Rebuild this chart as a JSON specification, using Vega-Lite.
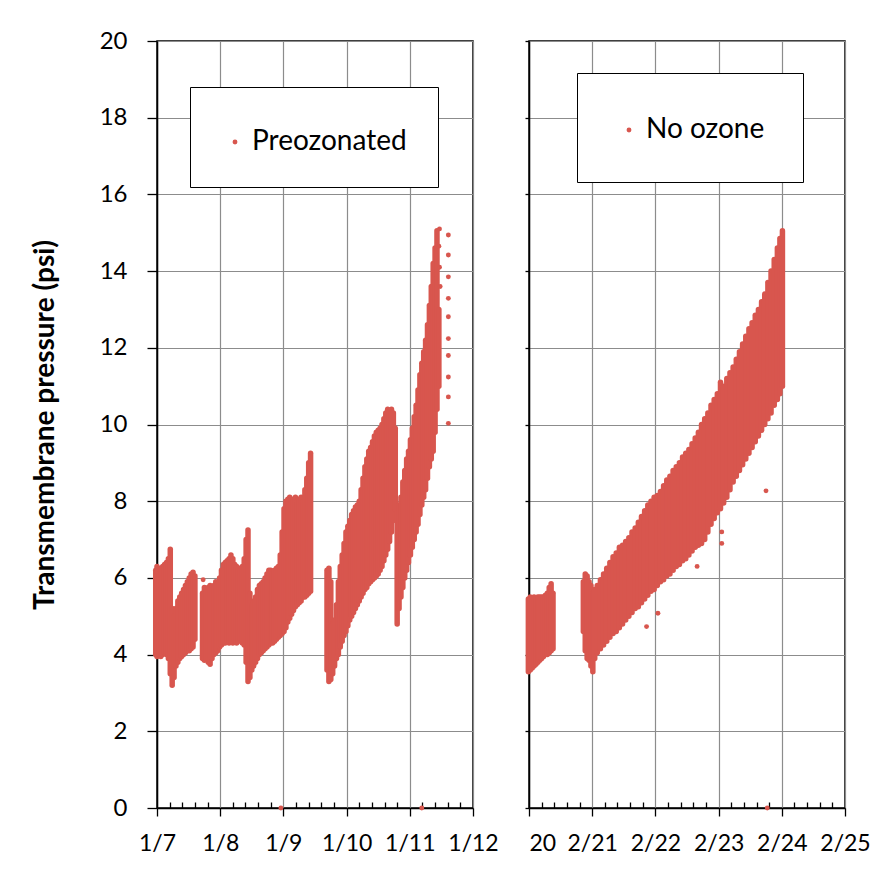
{
  "$schema": "https://vega.github.io/schema/vega-lite/v6.json",
  "background": "white",
  "padding": {"left": 30, "top": 28, "right": 5, "bottom": 5},
  "config": {
    "font": "Lato",
    "view": {"stroke": "black", "strokeWidth": 1.5},
    "axis": {"labelColor": "black", "labelFont": "Lato", "labelFontSize": 23, "gridColor": "#8c8c8c", "gridWidth": 1.2, "gridOpacity": 1, "domainColor": "black", "domainWidth": 1.5, "tickColor": "black", "tickWidth": 1.3}
  },
  "datasets": {
    "leftBands": [
      {"day": 6.98, "lo": 4.0, "hi": 6.2}, {"day": 7.0, "lo": 3.95, "hi": 6.3}, {"day": 7.03, "lo": 4.0, "hi": 6.1}, {"day": 7.06, "lo": 3.95, "hi": 6.25}, {"day": 7.09, "lo": 4.0, "hi": 6.3}, {"day": 7.12, "lo": 4.05, "hi": 6.35}, {"day": 7.15, "lo": 4.0, "hi": 6.4}, {"day": 7.18, "lo": 3.9, "hi": 6.5}, {"day": 7.21, "lo": 3.5, "hi": 6.75}, {"day": 7.24, "lo": 3.2, "hi": 5.2},
      {"day": 7.27, "lo": 3.4, "hi": 5.0}, {"day": 7.3, "lo": 3.7, "hi": 5.2}, {"day": 7.33, "lo": 3.8, "hi": 5.4}, {"day": 7.36, "lo": 3.9, "hi": 5.5}, {"day": 7.39, "lo": 3.95, "hi": 5.6}, {"day": 7.42, "lo": 4.0, "hi": 5.7}, {"day": 7.45, "lo": 4.05, "hi": 5.8}, {"day": 7.48, "lo": 4.1, "hi": 5.9}, {"day": 7.51, "lo": 4.1, "hi": 6.0}, {"day": 7.54, "lo": 4.15, "hi": 6.1}, {"day": 7.57, "lo": 4.2, "hi": 6.15}, {"day": 7.6, "lo": 4.4, "hi": 6.05},
      {"day": 7.72, "lo": 3.9, "hi": 5.6}, {"day": 7.75, "lo": 3.85, "hi": 5.75}, {"day": 7.78, "lo": 3.9, "hi": 5.7}, {"day": 7.81, "lo": 3.8, "hi": 5.75}, {"day": 7.84, "lo": 3.75, "hi": 5.8}, {"day": 7.87, "lo": 3.9, "hi": 5.75}, {"day": 7.9, "lo": 4.0, "hi": 5.8}, {"day": 7.93, "lo": 4.05, "hi": 5.9}, {"day": 7.96, "lo": 4.1, "hi": 5.85}, {"day": 7.99, "lo": 4.2, "hi": 6.0}, {"day": 8.02, "lo": 4.25, "hi": 6.2}, {"day": 8.05, "lo": 4.3, "hi": 6.35}, {"day": 8.08, "lo": 4.3, "hi": 6.4}, {"day": 8.11, "lo": 4.35, "hi": 6.45}, {"day": 8.14, "lo": 4.3, "hi": 6.5}, {"day": 8.17, "lo": 4.35, "hi": 6.6}, {"day": 8.2, "lo": 4.3, "hi": 6.5}, {"day": 8.23, "lo": 4.35, "hi": 6.35}, {"day": 8.26, "lo": 4.3, "hi": 6.3}, {"day": 8.29, "lo": 4.35, "hi": 6.25}, {"day": 8.32, "lo": 4.4, "hi": 6.2}, {"day": 8.35, "lo": 4.3, "hi": 6.3}, {"day": 8.38, "lo": 4.25, "hi": 6.5}, {"day": 8.41, "lo": 3.8, "hi": 7.0}, {"day": 8.44, "lo": 3.3, "hi": 7.25}, {"day": 8.47, "lo": 3.4, "hi": 5.6},
      {"day": 8.5, "lo": 3.6, "hi": 5.3}, {"day": 8.53, "lo": 3.7, "hi": 5.4}, {"day": 8.56, "lo": 3.8, "hi": 5.5}, {"day": 8.59, "lo": 3.9, "hi": 5.7}, {"day": 8.62, "lo": 4.0, "hi": 5.8}, {"day": 8.65, "lo": 4.05, "hi": 5.85}, {"day": 8.68, "lo": 4.1, "hi": 5.9}, {"day": 8.71, "lo": 4.15, "hi": 6.0}, {"day": 8.74, "lo": 4.2, "hi": 6.1}, {"day": 8.77, "lo": 4.25, "hi": 6.2}, {"day": 8.8, "lo": 4.3, "hi": 6.2}, {"day": 8.83, "lo": 4.3, "hi": 6.15}, {"day": 8.86, "lo": 4.35, "hi": 6.2}, {"day": 8.89, "lo": 4.4, "hi": 6.25}, {"day": 8.92, "lo": 4.45, "hi": 6.3}, {"day": 8.95, "lo": 4.5, "hi": 6.6}, {"day": 8.98, "lo": 4.55, "hi": 7.2}, {"day": 9.01, "lo": 4.6, "hi": 7.8}, {"day": 9.04, "lo": 4.7, "hi": 8.0}, {"day": 9.07, "lo": 4.85, "hi": 8.05}, {"day": 9.1, "lo": 4.95, "hi": 8.1}, {"day": 9.13, "lo": 5.05, "hi": 8.0}, {"day": 9.16, "lo": 5.15, "hi": 8.05}, {"day": 9.19, "lo": 5.25, "hi": 8.1}, {"day": 9.22, "lo": 5.3, "hi": 8.0}, {"day": 9.25, "lo": 5.35, "hi": 8.05}, {"day": 9.28, "lo": 5.4, "hi": 8.1}, {"day": 9.31, "lo": 5.5, "hi": 8.0}, {"day": 9.34, "lo": 5.5, "hi": 8.3}, {"day": 9.37, "lo": 5.55, "hi": 8.6}, {"day": 9.4, "lo": 5.6, "hi": 9.0}, {"day": 9.43, "lo": 5.65, "hi": 9.25},
      {"day": 9.69, "lo": 3.6, "hi": 6.2}, {"day": 9.72, "lo": 3.3, "hi": 6.25}, {"day": 9.75, "lo": 3.35, "hi": 5.9}, {"day": 9.78, "lo": 3.5, "hi": 4.8}, {"day": 9.81, "lo": 3.7, "hi": 4.9}, {"day": 9.84, "lo": 3.9, "hi": 5.3}, {"day": 9.87, "lo": 4.0, "hi": 5.9}, {"day": 9.9, "lo": 4.2, "hi": 6.3}, {"day": 9.93, "lo": 4.35, "hi": 6.6}, {"day": 9.96, "lo": 4.5, "hi": 6.9}, {"day": 9.99, "lo": 4.6, "hi": 7.2}, {"day": 10.02, "lo": 4.75, "hi": 7.35}, {"day": 10.05, "lo": 4.9, "hi": 7.5}, {"day": 10.08, "lo": 5.0, "hi": 7.65}, {"day": 10.11, "lo": 5.1, "hi": 7.75}, {"day": 10.14, "lo": 5.2, "hi": 7.85}, {"day": 10.17, "lo": 5.3, "hi": 7.9}, {"day": 10.2, "lo": 5.4, "hi": 8.0}, {"day": 10.23, "lo": 5.5, "hi": 8.3}, {"day": 10.26, "lo": 5.6, "hi": 8.6}, {"day": 10.29, "lo": 5.7, "hi": 8.9}, {"day": 10.32, "lo": 5.75, "hi": 9.1}, {"day": 10.35, "lo": 5.85, "hi": 9.3}, {"day": 10.38, "lo": 5.9, "hi": 9.4}, {"day": 10.41, "lo": 5.95, "hi": 9.55}, {"day": 10.44, "lo": 6.0, "hi": 9.7}, {"day": 10.47, "lo": 6.05, "hi": 9.8}, {"day": 10.5, "lo": 6.1, "hi": 9.85}, {"day": 10.53, "lo": 6.2, "hi": 9.9}, {"day": 10.56, "lo": 6.3, "hi": 10.0}, {"day": 10.59, "lo": 6.45, "hi": 10.15}, {"day": 10.62, "lo": 6.6, "hi": 10.3}, {"day": 10.65, "lo": 6.75, "hi": 10.4}, {"day": 10.68, "lo": 6.95, "hi": 10.35}, {"day": 10.71, "lo": 7.2, "hi": 10.4}, {"day": 10.74, "lo": 7.5, "hi": 10.3}, {"day": 10.77, "lo": 7.8, "hi": 9.9},
      {"day": 10.8, "lo": 4.8, "hi": 7.7}, {"day": 10.83, "lo": 5.2, "hi": 7.9}, {"day": 10.86, "lo": 5.5, "hi": 8.1}, {"day": 10.89, "lo": 5.75, "hi": 8.5}, {"day": 10.92, "lo": 6.0, "hi": 8.8}, {"day": 10.95, "lo": 6.2, "hi": 9.1}, {"day": 10.98, "lo": 6.4, "hi": 9.3}, {"day": 11.01, "lo": 6.6, "hi": 9.6}, {"day": 11.04, "lo": 6.8, "hi": 9.9}, {"day": 11.07, "lo": 7.0, "hi": 10.2}, {"day": 11.1, "lo": 7.2, "hi": 10.5}, {"day": 11.13, "lo": 7.4, "hi": 10.9}, {"day": 11.16, "lo": 7.65, "hi": 11.3}, {"day": 11.19, "lo": 7.9, "hi": 11.6}, {"day": 11.22, "lo": 8.1, "hi": 11.9}, {"day": 11.25, "lo": 8.3, "hi": 12.2}, {"day": 11.28, "lo": 8.6, "hi": 12.6}, {"day": 11.31, "lo": 8.9, "hi": 13.1}, {"day": 11.34, "lo": 9.1, "hi": 13.6}, {"day": 11.37, "lo": 9.3, "hi": 14.2}, {"day": 11.4, "lo": 9.8, "hi": 14.6}, {"day": 11.43, "lo": 10.4, "hi": 15.05}, {"day": 11.46, "lo": 11.0, "hi": 13.0}
    ],
    "leftPts": [
      {"day": 8.96, "psi": 0, "series": "Preozonated"}, {"day": 11.19, "psi": 0, "series": "Preozonated"},
      {"day": 7.73, "psi": 5.95, "series": "Preozonated"},
      {"day": 11.61, "psi": 14.94, "series": "Preozonated"}, {"day": 11.61, "psi": 14.42, "series": "Preozonated"}, {"day": 11.61, "psi": 13.85, "series": "Preozonated"}, {"day": 11.61, "psi": 13.29, "series": "Preozonated"}, {"day": 11.61, "psi": 12.81, "series": "Preozonated"}, {"day": 11.61, "psi": 12.24, "series": "Preozonated"}, {"day": 11.61, "psi": 11.8, "series": "Preozonated"}, {"day": 11.61, "psi": 11.24, "series": "Preozonated"}, {"day": 11.61, "psi": 10.72, "series": "Preozonated"}, {"day": 11.61, "psi": 10.03, "series": "Preozonated"},
      {"day": 11.47, "psi": 15.1, "series": "Preozonated"}, {"day": 11.46, "psi": 14.65, "series": "Preozonated"}, {"day": 11.47, "psi": 14.1, "series": "Preozonated"}, {"day": 11.48, "psi": 13.6, "series": "Preozonated"}
    ],
    "rightBands": [
      {"day": 19.99, "lo": 3.55, "hi": 5.45}, {"day": 20.02, "lo": 3.6, "hi": 5.5}, {"day": 20.05, "lo": 3.65, "hi": 5.45}, {"day": 20.08, "lo": 3.7, "hi": 5.5}, {"day": 20.11, "lo": 3.75, "hi": 5.45}, {"day": 20.14, "lo": 3.8, "hi": 5.5}, {"day": 20.17, "lo": 3.85, "hi": 5.5}, {"day": 20.2, "lo": 3.9, "hi": 5.5}, {"day": 20.23, "lo": 3.95, "hi": 5.5}, {"day": 20.26, "lo": 4.0, "hi": 5.55}, {"day": 20.29, "lo": 4.0, "hi": 5.6}, {"day": 20.32, "lo": 4.05, "hi": 5.75}, {"day": 20.35, "lo": 4.1, "hi": 5.85}, {"day": 20.38, "lo": 4.15, "hi": 5.6},
      {"day": 20.86, "lo": 4.6, "hi": 5.9}, {"day": 20.89, "lo": 4.1, "hi": 6.1}, {"day": 20.92, "lo": 3.9, "hi": 6.05}, {"day": 20.95, "lo": 3.85, "hi": 5.9}, {"day": 20.98, "lo": 3.7, "hi": 5.8}, {"day": 21.01, "lo": 3.55, "hi": 5.6}, {"day": 21.04, "lo": 3.9, "hi": 5.7}, {"day": 21.08, "lo": 4.05, "hi": 5.8}, {"day": 21.13, "lo": 4.15, "hi": 5.95}, {"day": 21.18, "lo": 4.25, "hi": 6.1}, {"day": 21.23, "lo": 4.35, "hi": 6.25}, {"day": 21.28, "lo": 4.45, "hi": 6.4}, {"day": 21.33, "lo": 4.55, "hi": 6.55}, {"day": 21.38, "lo": 4.6, "hi": 6.65}, {"day": 21.43, "lo": 4.7, "hi": 6.8}, {"day": 21.48, "lo": 4.8, "hi": 6.85}, {"day": 21.53, "lo": 4.9, "hi": 6.95}, {"day": 21.58, "lo": 5.0, "hi": 7.05}, {"day": 21.63, "lo": 5.1, "hi": 7.2}, {"day": 21.68, "lo": 5.2, "hi": 7.3}, {"day": 21.73, "lo": 5.25, "hi": 7.45}, {"day": 21.78, "lo": 5.35, "hi": 7.6}, {"day": 21.83, "lo": 5.45, "hi": 7.75}, {"day": 21.88, "lo": 5.55, "hi": 7.9}, {"day": 21.93, "lo": 5.65, "hi": 8.0}, {"day": 21.98, "lo": 5.7, "hi": 8.1}, {"day": 22.03, "lo": 5.8, "hi": 8.15}, {"day": 22.08, "lo": 5.9, "hi": 8.25}, {"day": 22.13, "lo": 5.95, "hi": 8.4}, {"day": 22.18, "lo": 6.05, "hi": 8.55}, {"day": 22.23, "lo": 6.1, "hi": 8.65}, {"day": 22.28, "lo": 6.2, "hi": 8.8}, {"day": 22.33, "lo": 6.3, "hi": 8.9}, {"day": 22.38, "lo": 6.35, "hi": 9.0}, {"day": 22.43, "lo": 6.45, "hi": 9.15}, {"day": 22.48, "lo": 6.5, "hi": 9.25}, {"day": 22.53, "lo": 6.6, "hi": 9.35}, {"day": 22.58, "lo": 6.7, "hi": 9.5}, {"day": 22.63, "lo": 6.8, "hi": 9.65}, {"day": 22.68, "lo": 6.85, "hi": 9.8}, {"day": 22.73, "lo": 6.9, "hi": 10.0}, {"day": 22.78, "lo": 7.0, "hi": 10.15}, {"day": 22.83, "lo": 7.2, "hi": 10.3}, {"day": 22.88, "lo": 7.4, "hi": 10.5}, {"day": 22.93, "lo": 7.55, "hi": 10.65}, {"day": 22.98, "lo": 7.7, "hi": 10.8}, {"day": 23.03, "lo": 7.8, "hi": 11.1}, {"day": 23.08, "lo": 7.95, "hi": 11.0}, {"day": 23.13, "lo": 8.1, "hi": 11.2}, {"day": 23.18, "lo": 8.3, "hi": 11.35}, {"day": 23.23, "lo": 8.5, "hi": 11.5}, {"day": 23.28, "lo": 8.65, "hi": 11.7}, {"day": 23.33, "lo": 8.8, "hi": 11.9}, {"day": 23.38, "lo": 8.95, "hi": 12.1}, {"day": 23.43, "lo": 9.1, "hi": 12.3}, {"day": 23.48, "lo": 9.25, "hi": 12.5}, {"day": 23.53, "lo": 9.4, "hi": 12.65}, {"day": 23.58, "lo": 9.55, "hi": 12.85}, {"day": 23.63, "lo": 9.7, "hi": 13.0}, {"day": 23.68, "lo": 9.85, "hi": 13.2}, {"day": 23.73, "lo": 10.0, "hi": 13.4}, {"day": 23.78, "lo": 10.15, "hi": 13.7}, {"day": 23.83, "lo": 10.3, "hi": 14.0}, {"day": 23.88, "lo": 10.5, "hi": 14.3}, {"day": 23.93, "lo": 10.65, "hi": 14.6}, {"day": 23.97, "lo": 10.8, "hi": 14.85}, {"day": 24.01, "lo": 11.0, "hi": 15.05}
    ],
    "rightPts": [
      {"day": 21.86, "psi": 4.73, "series": "No ozone"}, {"day": 22.04, "psi": 5.08, "series": "No ozone"}, {"day": 22.66, "psi": 6.3, "series": "No ozone"}, {"day": 23.05, "psi": 7.2, "series": "No ozone"}, {"day": 23.05, "psi": 6.9, "series": "No ozone"}, {"day": 23.75, "psi": 8.27, "series": "No ozone"}, {"day": 23.77, "psi": 0, "series": "No ozone"}
    ]
  },
  "spacing": 56,
  "bounds": "flush",
  "resolve": {"scale": {"color": "independent"}, "legend": {"color": "independent"}},
  "hconcat": [
    {
      "width": 316,
      "height": 767,
      "layer": [
        {
          "data": {"name": "leftBands"},
          "mark": {"type": "rule", "strokeWidth": 5.5, "strokeCap": "round", "color": "#d8564e"},
          "encoding": {
            "x": {"field": "day", "type": "quantitative", "scale": {"domain": [7, 12], "nice": false, "zero": false},
              "axis": {"title": null, "tickCount": 100, "values": [7, 7.2, 7.4, 7.6, 7.8, 8, 8.2, 8.4, 8.6, 8.8, 9, 9.2, 9.4, 9.6, 9.8, 10, 10.2, 10.4, 10.6, 10.8, 11, 11.2, 11.4, 11.6, 11.8, 12],
                "labelExpr": "datum.value == round(datum.value) ? '1/' + datum.value : ''",
                "labelOverlap": false, "labelFlush": false, "labelPadding": 16,
                "tickSize": {"condition": {"test": "datum.value == round(datum.value)", "value": 8}, "value": -6},
                "gridOpacity": {"condition": {"test": "datum.value == round(datum.value)", "value": 1}, "value": 0}}},
            "y": {"field": "lo", "type": "quantitative", "scale": {"domain": [0, 20], "nice": false},
              "axis": {"title": "Transmembrane pressure (psi)", "tickCount": 100, "format": "d", "values": [0, 2, 4, 6, 8, 10, 12, 14, 16, 18, 20], "tickSize": 10, "labelPadding": 20, "labelFontSize": 24,
                "titleFont": "Lato", "titleFontSize": 28, "titleFontWeight": "bold", "titleColor": "black", "titlePadding": 40}},
            "y2": {"field": "hi"}
          }
        },
        {
          "data": {"name": "leftPts"},
          "mark": {"type": "circle", "size": 24, "opacity": 1},
          "encoding": {
            "x": {"field": "day", "type": "quantitative"},
            "y": {"field": "psi", "type": "quantitative"},
            "color": {"field": "series", "type": "nominal", "scale": {"range": ["#d8564e"]},
              "legend": {"orient": "none", "legendX": 33, "legendY": 46, "title": " ", "titleFontSize": 1, "titlePadding": 9, "padding": 31, "strokeColor": "black", "fillColor": "white", "labelFont": "Lato", "labelFontSize": 28, "labelColor": "black", "symbolSize": 24, "symbolType": "circle", "labelOffset": 3, "labelLimit": 400}}
          }
        }
      ]
    },
    {
      "width": 316,
      "height": 767,
      "layer": [
        {
          "data": {"name": "rightBands"},
          "mark": {"type": "rule", "strokeWidth": 5.5, "strokeCap": "round", "color": "#d8564e"},
          "encoding": {
            "x": {"field": "day", "type": "quantitative", "scale": {"domain": [20, 25], "nice": false, "zero": false},
              "axis": {"title": null, "tickCount": 100, "values": [20, 20.2, 20.4, 20.6, 20.8, 21, 21.2, 21.4, 21.6, 21.8, 22, 22.2, 22.4, 22.6, 22.8, 23, 23.2, 23.4, 23.6, 23.8, 24, 24.2, 24.4, 24.6, 24.8, 25],
                "labelExpr": "datum.value == 20 ? '20' : (datum.value == round(datum.value) ? '2/' + datum.value : '')",
                "labelAlign": {"condition": {"test": "datum.value == 20", "value": "left"}, "value": "center"},
                "labelOverlap": false, "labelFlush": false, "labelPadding": 16,
                "tickSize": {"condition": {"test": "datum.value == round(datum.value)", "value": 8}, "value": -6},
                "gridOpacity": {"condition": {"test": "datum.value == round(datum.value)", "value": 1}, "value": 0}}},
            "y": {"field": "lo", "type": "quantitative", "scale": {"domain": [0, 20], "nice": false},
              "axis": {"title": null, "tickCount": 100, "values": [0, 2, 4, 6, 8, 10, 12, 14, 16, 18, 20], "labels": false, "tickSize": 4}},
            "y2": {"field": "hi"}
          }
        },
        {
          "data": {"name": "rightPts"},
          "mark": {"type": "circle", "size": 24, "opacity": 1},
          "encoding": {
            "x": {"field": "day", "type": "quantitative"},
            "y": {"field": "psi", "type": "quantitative"},
            "color": {"field": "series", "type": "nominal", "scale": {"range": ["#d8564e"]},
              "legend": {"orient": "none", "legendX": 48, "legendY": 32, "title": " ", "titleFontSize": 1, "titlePadding": 4, "padding": 38, "strokeColor": "black", "fillColor": "white", "labelFont": "Lato", "labelFontSize": 28, "labelColor": "black", "symbolSize": 24, "symbolType": "circle", "labelOffset": 3, "labelLimit": 400}}
          }
        }
      ]
    }
  ]
}
